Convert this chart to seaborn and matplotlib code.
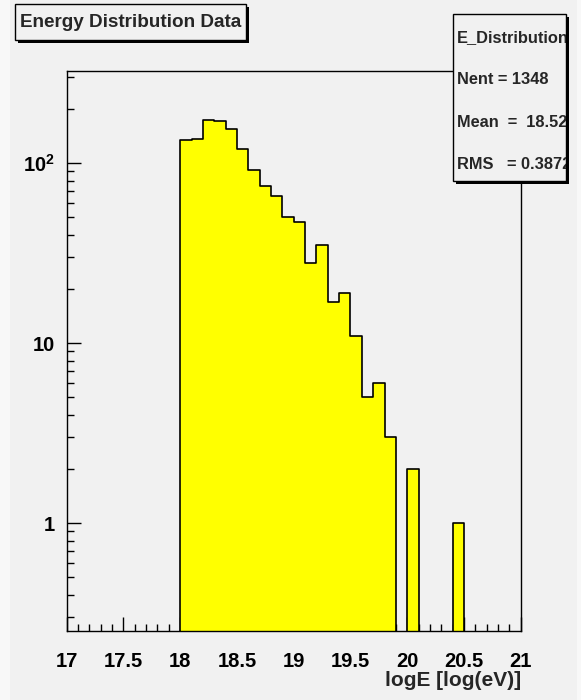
import numpy as np
import pandas as pd
import matplotlib
matplotlib.use("Agg")
import matplotlib.pyplot as plt
import matplotlib.ticker as mticker
from matplotlib.patches import Rectangle
import seaborn as sns

# histogram content: 40 bins of 0.1 from 17 to 21
bin_lows = [17.0, 17.1, 17.2, 17.3, 17.4, 17.5, 17.6, 17.7, 17.8, 17.9,
            18.0, 18.1, 18.2, 18.3, 18.4, 18.5, 18.6, 18.7, 18.8, 18.9,
            19.0, 19.1, 19.2, 19.3, 19.4, 19.5, 19.6, 19.7, 19.8, 19.9,
            20.0, 20.1, 20.2, 20.3, 20.4, 20.5, 20.6, 20.7, 20.8, 20.9]
counts = [0, 0, 0, 0, 0, 0, 0, 0, 0, 0,
          135, 136, 174, 172, 154, 120, 92, 75, 66, 50,
          47, 28, 35, 17, 19, 11, 5, 6, 3, 0,
          2, 0, 0, 0, 1, 0, 0, 0, 0, 0]
bin_width = 0.1

x_ticks = [17, 17.5, 18, 18.5, 19, 19.5, 20, 20.5, 21]
x_ticklabels = ["17", "17.5", "18", "18.5", "19", "19.5", "20", "20.5", "21"]
y_ticks = [1, 10, 100]
y_ticklabels = ["1", "10", r"$\mathbf{10^{2}}$"]

title = "Energy Distribution Data"
x_label = "logE [log(eV)]"
stats_name = "E_Distribution"
stats_lines = ["Nent = 1348", "Mean  =  18.52", "RMS   = 0.3872"]

W, H = 581, 700
PAD_COLOR = "#f1f1f1"


def fx(x):
    return x / W


def fy(y):
    return 1 - y / H


sns.set_style("ticks")
plt.rcParams["font.family"] = ["Liberation Sans", "DejaVu Sans"]
plt.rcParams["font.weight"] = "bold"
plt.rcParams["mathtext.fontset"] = "custom"
plt.rcParams["mathtext.rm"] = "Liberation Sans:bold"
plt.rcParams["mathtext.bf"] = "Liberation Sans:bold"

fig = plt.figure(figsize=(W / 100, H / 100), dpi=100, facecolor="#f8f8f8")
# canvas area (slightly darker than the outer frame)
fig.add_artist(Rectangle((fx(10), 0), fx(577) - fx(10), 1, transform=fig.transFigure,
                         facecolor=PAD_COLOR, edgecolor="none", zorder=-10))

ax = fig.add_axes([fx(66.7), fy(631), fx(520.7) - fx(66.7), fy(70.7) - fy(631)])
ax.set_facecolor(PAD_COLOR)

df = pd.DataFrame({"logE": np.array(bin_lows) + bin_width / 2, "n": counts})
sns.histplot(data=df, x="logE", weights="n", binwidth=bin_width, binrange=(17, 21),
             element="step", fill=True, color="#ffff00", edgecolor="black",
             linewidth=1.2, alpha=1, ax=ax)

ax.set_yscale("log")
ax.set_xlim(17, 21)
ax.set_ylim(0.252, 326)

ax.xaxis.set_major_locator(mticker.FixedLocator(x_ticks))
ax.xaxis.set_major_formatter(mticker.FixedFormatter(x_ticklabels))
ax.xaxis.set_minor_locator(mticker.MultipleLocator(0.1))
ax.yaxis.set_major_locator(mticker.FixedLocator(y_ticks))
ax.yaxis.set_major_formatter(mticker.FixedFormatter(y_ticklabels))
ax.yaxis.set_minor_locator(mticker.LogLocator(base=10, subs=np.arange(2, 10)))
ax.yaxis.set_minor_formatter(mticker.NullFormatter())

ax.tick_params(axis="both", which="both", direction="in", colors="black",
               top=False, right=False, width=1)
ax.tick_params(axis="both", which="major", length=10, labelsize=14.5)
ax.tick_params(axis="both", which="minor", length=5)
ax.tick_params(axis="x", which="major", pad=15)
ax.tick_params(axis="y", which="major", pad=8.5)

for sp in ax.spines.values():
    sp.set_visible(True)
    sp.set_color("black")
    sp.set_linewidth(1)

ax.set_ylabel("")
ax.set_xlabel(x_label, loc="right", fontsize=15, fontweight="bold", labelpad=0)

# title box with shadow
fig.add_artist(Rectangle((fx(17.5), fy(42.5)), fx(248.5) - fx(17.5), fy(6.5) - fy(42.5),
                         transform=fig.transFigure, facecolor="black",
                         edgecolor="none", zorder=2))
fig.add_artist(Rectangle((fx(15), fy(40)), fx(246) - fx(15), fy(4) - fy(40),
                         transform=fig.transFigure, facecolor=PAD_COLOR,
                         edgecolor="black", linewidth=1, zorder=3))
fig.text(fx(19.5), fy(22.5), title, fontsize=13.6, fontweight="bold",
         ha="left", va="center", zorder=4)

# stats box with shadow; text clipped at the box edge as in the original
fig.add_artist(Rectangle((fx(456), fy(184)), fx(569) - fx(456), fy(17) - fy(184),
                         transform=fig.transFigure, facecolor="black",
                         edgecolor="none", zorder=2))
stats_box = Rectangle((fx(453), fy(181)), fx(566) - fx(453), fy(14) - fy(181),
                      transform=fig.transFigure, facecolor=PAD_COLOR,
                      edgecolor="black", linewidth=1, zorder=3)
fig.add_artist(stats_box)
for i, line in enumerate([stats_name] + stats_lines):
    t = fig.text(fx(457), fy(37.5 + 42.3 * i), line, fontsize=11.8,
                 fontweight="bold", ha="left", va="center", zorder=4)
    t.set_clip_path(stats_box)

fig.savefig("out.png", dpi=100, facecolor=fig.get_facecolor())
